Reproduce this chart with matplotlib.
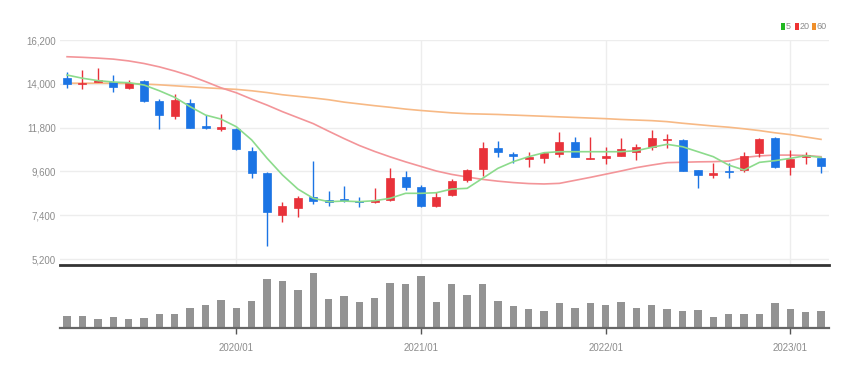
import matplotlib
matplotlib.use("Agg")
import matplotlib.pyplot as plt
from matplotlib.patches import Rectangle

plt.rcParams['font.family'] = ['Liberation Sans Narrow', 'Liberation Sans', 'DejaVu Sans']

# monthly candles, 2019/02 .. 2023/03
months = [f"{2019 + (m + 1) // 12}/{(m + 1) % 12 + 1:02d}" for m in range(50)]

opens = [14270, 13980, 14090, 14070, 13805, 14140, 13150, 12380, 13050, 11880,
         11710, 11710, 10620, 9500, 7405, 7740, 8310, 8180, 8190, 8130,
         8040, 8160, 9330, 8830, 7875, 8410, 9165, 9720, 10790, 10490,
         10240, 10250, 10490, 11090, 10220, 10250, 10390, 10590, 10810, 11175,
         11175, 9685, 9415, 9615, 9650, 10520, 11260, 9800, 10300, 10290]
highs = [14580, 14690, 14780, 14425, 14190, 14205, 13220, 13500, 13220, 12430,
         12480, 11760, 10840, 9550, 8075, 8380, 10120, 8610, 8880, 8330,
         8745, 9785, 9620, 8915, 8545, 9200, 9700, 11090, 11125, 10555,
         10555, 10590, 11595, 11345, 11310, 10840, 11260, 10990, 11680, 11475,
         11225, 9685, 10020, 10020, 10555, 11260, 11310, 10670, 10590, 10340]
lows = [13770, 13720, 14080, 13605, 13740, 13100, 11730, 12230, 11760, 11730,
        11645, 10700, 9280, 5865, 7040, 7320, 7960, 7875, 8075, 7790,
        8025, 8125, 8660, 7825, 7825, 8380, 9045, 9385, 10335, 10000,
        9800, 10000, 10320, 10320, 10220, 9970, 10385, 10170, 10670, 10775,
        9635, 8780, 9280, 9280, 9585, 10335, 9785, 9415, 9970, 9500]
closes = [13970, 14060, 14190, 13855, 14025, 13135, 12430, 13185, 11795, 11760,
          11810, 10720, 9535, 7540, 7875, 8275, 8125, 8075, 8125, 8075,
          8160, 9280, 8830, 7875, 8330, 9130, 9650, 10790, 10555, 10355,
          10305, 10540, 11060, 10320, 10290, 10355, 10705, 10825, 11260, 11240,
          9635, 9415, 9515, 9550, 10385, 11210, 9835, 10220, 10420, 9870]

ma5 = [14440, 14280, 14160, 14090, 14055, 13940, 13650, 13320, 12850, 12430,
       12230, 11845, 11180, 10260, 9420, 8715, 8250, 8080, 8110, 8080,
       8130, 8250, 8500, 8500, 8530, 8715, 8750, 9250, 9755, 10090,
       10340, 10540, 10590, 10590, 10590, 10590, 10590, 10640, 10810, 10960,
       10840, 10590, 10340, 9920, 9670, 10055, 10140, 10255, 10390, 10305]
ma20 = [15360, 15330, 15290, 15240, 15150, 15020, 14850, 14640, 14400, 14110,
        13800, 13550, 13230, 12930, 12600, 12300, 12000, 11620, 11250, 10900,
        10600, 10330, 10080, 9850, 9620, 9450, 9320, 9200, 9110, 9040,
        8990, 8970, 9000, 9150, 9300, 9460, 9620, 9790, 9920, 10040,
        10060, 10080, 10090, 10120, 10300, 10380, 10420, 10420, 10400, 10340]
ma60 = [14030, 14030, 14030, 14030, 14020, 13990, 13950, 13900, 13850, 13800,
        13760, 13720, 13650, 13560, 13450, 13370, 13290, 13200, 13080, 12990,
        12900, 12820, 12730, 12660, 12600, 12540, 12500, 12480, 12460, 12430,
        12400, 12370, 12340, 12310, 12280, 12250, 12210, 12180, 12150, 12100,
        12020, 11950, 11880, 11820, 11740, 11650, 11540, 11450, 11330, 11210]

volume = [12.3, 12.3, 8.7, 10.7, 8.7, 10.0, 13.7, 13.7, 20.3, 22.7,
          27.7, 20.3, 27.0, 49.3, 47.0, 37.7, 54.7, 28.7, 32.3, 26.0,
          29.7, 44.7, 43.7, 52.3, 26.0, 44.0, 33.0, 44.0, 27.3, 22.3,
          19.3, 17.0, 24.7, 20.3, 24.7, 22.7, 26.3, 20.3, 22.7, 18.7,
          17.0, 17.7, 11.3, 14.3, 14.0, 14.0, 24.7, 19.3, 16.0, 17.0]

price_ticks = [5200, 7400, 9600, 11800, 14000, 16200]

UP = "#e8323a"
DOWN = "#1b74e4"
GRID = "#ededed"
TXT = "#8c8c8c"

fig = plt.figure(figsize=(8.64, 3.69), dpi=100)
ax = fig.add_axes([60 / 864, 1 - 265 / 369, 769 / 864, 225 / 369])
axv = fig.add_axes([60 / 864, 1 - 328 / 369, 769 / 864, 60 / 369], sharex=ax)

x = list(range(len(months)))
year_idx = [i for i, m in enumerate(months) if m.endswith("/01")]

# price panel
for i in x:
    o, h, l, c = opens[i], highs[i], lows[i], closes[i]
    col = UP if c >= o else DOWN
    ax.vlines(i, l, h, color=col, linewidth=1.0, zorder=3)
    body = max(abs(c - o), 45)
    ax.add_patch(Rectangle((i - 0.26, min(o, c)), 0.52, body, facecolor=col,
                           edgecolor=col, linewidth=0.5, zorder=4))

ax.plot(x, ma60, color="#f7b985", linewidth=1.2, zorder=2)
ax.plot(x, ma20, color="#f39599", linewidth=1.2, zorder=2)
ax.plot(x, ma5, color="#8cdb8c", linewidth=1.2, zorder=5)

ax.set_ylim(4900, 16200)
ax.set_xlim(-0.46, 49.52)
ax.set_yticks(price_ticks)
ax.set_yticklabels([f"{v:,}" for v in price_ticks])
ax.set_xticks(year_idx)
ax.grid(True, color=GRID, linewidth=1.0, zorder=0)
ax.set_axisbelow(True)
ax.tick_params(axis="y", length=0, labelsize=7, colors=TXT, pad=3)
ax.tick_params(axis="x", length=0, labelbottom=False)
for s in ["top", "right", "left"]:
    ax.spines[s].set_visible(False)
ax.spines["bottom"].set_color("#333333")
ax.spines["bottom"].set_linewidth(2.0)

# volume panel
axv.bar(x, volume, width=0.48, color="#939393", zorder=2)
axv.set_ylim(0, 60)
axv.set_yticks([])
axv.set_xticks(year_idx)
axv.set_xticklabels(months[i] for i in year_idx)
axv.tick_params(axis="x", length=4, width=1, color="#555555", labelsize=7,
                labelcolor=TXT, pad=7)
for s in ["top", "right", "left"]:
    axv.spines[s].set_visible(False)
axv.spines["bottom"].set_color("#666666")
axv.spines["bottom"].set_linewidth(1.6)

# legend at top right
legend_items = [("5", "#22b822", 781), ("20", "#ee3333", 795), ("60", "#f0902c", 812)]
for label, col, lx in legend_items:
    fig.patches.append(Rectangle((lx / 864, 1 - 30 / 369), 3.5 / 864, 7 / 369,
                                 transform=fig.transFigure, facecolor=col,
                                 edgecolor="none"))
    fig.text((lx + 4.5) / 864, 1 - 26.5 / 369, label, fontsize=6.5, color=TXT,
             va="center", ha="left")

fig.savefig("out.png", dpi=100, facecolor="white")
